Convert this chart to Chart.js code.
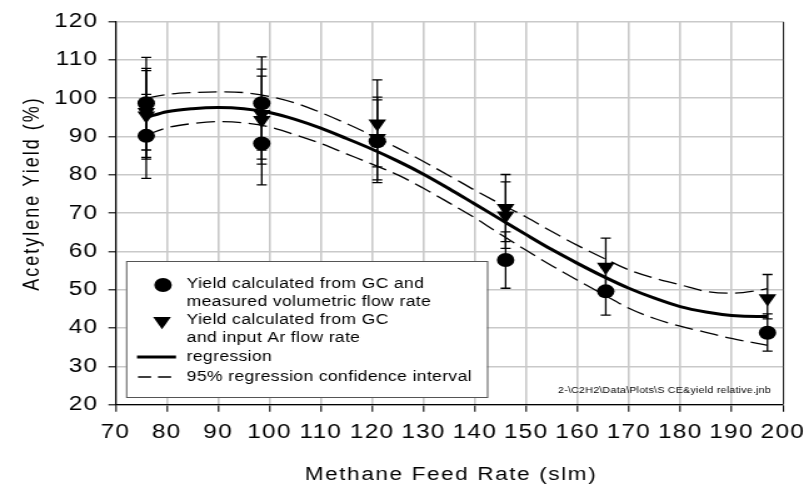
<!DOCTYPE html>
<html>
<head>
<meta charset="utf-8">
<title>Acetylene Yield vs Methane Feed Rate</title>
<script src="https://cdn.jsdelivr.net/npm/chart.js@4.4.1/dist/chart.umd.min.js"></script>
<style>
  html, body { margin: 0; padding: 0; background: #fff; }
  #chart { display: block; }
</style>
</head>
<body>
<canvas id="chart" width="643" height="485" style="width: 804px; height: 485px;"></canvas>
<script>
// The canvas is 643 px wide but shown at 804 px, so the whole plot is widened ~1.25x.
const STRETCH = 804 / 643;
const FONT = "'Liberation Sans', Arial, Helvetica, sans-serif";

const xTicks = [70, 80, 90, 100, 110, 120, 130, 140, 150, 160, 170, 180, 190, 200];
const yTicks = [20, 30, 40, 50, 60, 70, 80, 90, 100, 110, 120];

// yield from GC and measured volumetric flow rate (circles)
const measuredFeed = [76, 76, 98.5, 98.5, 121, 146, 165.5, 197];
const measuredYield = [98.7, 90.2, 98.7, 88.2, 88.8, 57.8, 49.6, 38.8];
const measuredLow = [86.5, 79.1, 86.5, 77.4, 78.0, 50.4, 43.4, 34.0];
const measuredHigh = [110.7, 101.0, 110.8, 99.0, 99.6, 65.1, 55.8, 43.7];

// yield from GC and input Ar flow rate (triangles)
const argonFeed = [76, 76, 98.5, 98.5, 121, 121, 146, 146, 165.5, 197];
const argonYield = [96.4, 95.5, 95.9, 94.3, 93.4, 89.6, 71.3, 69.4, 56.0, 47.8];
const argonLow = [84.6, 84.1, 84.1, 82.8, 82.1, 78.7, 62.6, 60.8, 48.8, 42.4];
const argonHigh = [107.8, 107.2, 107.6, 105.8, 104.8, 100.3, 80.1, 78.2, 63.5, 54.0];

// regression curve and its 95% confidence band
const fitFeed = [76, 80, 85, 90, 95, 100, 105, 110, 115, 120, 125, 130, 135, 140, 145, 150, 155, 160, 165, 170, 175, 180, 185, 190, 195, 197];
const fitYield = [95.0, 96.5, 97.3, 97.6, 97.3, 96.3, 94.5, 92.2, 89.5, 86.7, 83.6, 80.2, 76.4, 72.4, 68.4, 64.4, 60.5, 56.9, 53.5, 50.4, 47.8, 45.6, 44.2, 43.3, 43.0, 43.0];
const fitUpper = [100.0, 101.0, 101.5, 101.7, 101.5, 100.5, 98.8, 96.3, 93.4, 90.3, 87.0, 83.5, 79.8, 76.0, 72.4, 69.0, 65.2, 61.6, 58.3, 55.2, 53.0, 51.3, 49.6, 49.1, 49.8, 50.3];
const fitLower = [90.4, 92.3, 93.4, 93.9, 93.6, 92.5, 90.5, 88.2, 85.5, 82.8, 80.0, 76.5, 72.7, 68.8, 64.5, 60.3, 56.3, 52.5, 48.8, 45.2, 42.5, 40.5, 38.9, 37.3, 36.0, 35.5];

const legendLines = [
  "Yield calculated from GC and",
  "measured volumetric flow rate",
  "Yield calculated from GC",
  "and input Ar flow rate",
  "regression",
  "95% regression confidence interval",
];
const fileNote = "2-\\C2H2\\Data\\Plots\\S CE&yield relative.jnb";
const xTitle = "Methane Feed Rate (slm)";
const yTitle = "Acetylene Yield (%)";

const sx = (v) => v / STRETCH;
const pairs = (xs, ys) => xs.map((x, i) => ({ x, y: ys[i] }));

function drawErrorBars(ctx, xScale, yScale, xs, lows, highs) {
  ctx.save();
  ctx.strokeStyle = "#000";
  ctx.lineWidth = 1.3;
  xs.forEach((v, i) => {
    const px = xScale.getPixelForValue(v);
    const top = yScale.getPixelForValue(highs[i]);
    const bottom = yScale.getPixelForValue(lows[i]);
    ctx.beginPath();
    ctx.moveTo(px, top);
    ctx.lineTo(px, bottom);
    ctx.moveTo(px - 4, top);
    ctx.lineTo(px + 4, top);
    ctx.moveTo(px - 4, bottom);
    ctx.lineTo(px + 4, bottom);
    ctx.stroke();
  });
  ctx.restore();
}

function downTriangle(ctx, x, y, r) {
  const a = (2 * Math.PI) / 3;
  ctx.beginPath();
  for (let k = 0; k < 3; k++) {
    const rad = Math.PI + k * a;
    const px = x + Math.sin(rad) * r;
    const py = y - Math.cos(rad) * r;
    if (k === 0) ctx.moveTo(px, py);
    else ctx.lineTo(px, py);
  }
  ctx.closePath();
  ctx.fill();
}

function drawLegend(ctx) {
  const left = sx(126), right = sx(487), top = 261, bottom = 397;
  ctx.save();
  ctx.fillStyle = "#fff";
  ctx.fillRect(left, top, right - left, bottom - top);
  ctx.strokeStyle = "#555";
  ctx.lineWidth = 1;
  ctx.strokeRect(left + 0.5, top + 0.5, right - left, bottom - top);

  ctx.fillStyle = "#000";
  ctx.beginPath();
  ctx.arc(sx(163), 285, 7, 0, Math.PI * 2);
  ctx.fill();
  downTriangle(ctx, sx(162), 321, 8.2);

  ctx.strokeStyle = "#000";
  ctx.lineWidth = 3;
  ctx.beginPath();
  ctx.moveTo(sx(137), 357);
  ctx.lineTo(sx(176), 357);
  ctx.stroke();
  ctx.lineWidth = 1.3;
  ctx.setLineDash([10.5, 5.5]);
  ctx.beginPath();
  ctx.moveTo(sx(138), 377);
  ctx.lineTo(sx(176), 377);
  ctx.stroke();
  ctx.setLineDash([]);

  ctx.font = `14px ${FONT}`;
  ctx.letterSpacing = "0.3px";
  ctx.textAlign = "left";
  ctx.textBaseline = "middle";
  const rows = [284, 302, 320, 338, 357, 377];
  legendLines.forEach((t, i) => ctx.fillText(t, sx(186.7), rows[i]));

  ctx.font = `8.5px ${FONT}`;
  ctx.letterSpacing = "0.2px";
  ctx.fillText(fileNote, sx(558), 391);
  ctx.restore();
}

function drawTitles(ctx) {
  ctx.save();
  ctx.fillStyle = "#000";
  ctx.textAlign = "center";
  ctx.textBaseline = "middle";
  ctx.font = `18px ${FONT}`;
  ctx.letterSpacing = "1.3px";
  ctx.fillText(xTitle, sx(451), 475);
  ctx.letterSpacing = "2px";
  ctx.translate(sx(32), 193.5);
  ctx.rotate(-Math.PI / 2);
  ctx.fillText(yTitle, 0, 0);
  ctx.restore();
}

const decorations = {
  id: "decorations",
  beforeDraw(chart) {
    // spaced tick labels
    chart.ctx.letterSpacing = "1px";
  },
  beforeDatasetsDraw(chart) {
    const { ctx, scales } = chart;
    ctx.letterSpacing = "0px";
    drawErrorBars(ctx, scales.x, scales.y, measuredFeed, measuredLow, measuredHigh);
    drawErrorBars(ctx, scales.x, scales.y, argonFeed, argonLow, argonHigh);
  },
  afterDraw(chart) {
    drawLegend(chart.ctx);
    drawTitles(chart.ctx);
  },
};

const gridColor = "#c9c9c9";

new Chart(document.getElementById("chart"), {
  type: "scatter",
  data: {
    datasets: [
      {
        label: "95% regression confidence interval",
        data: pairs(fitFeed, fitUpper),
        showLine: true,
        borderColor: "#000",
        borderWidth: 1.3,
        borderDash: [15, 6],
        pointRadius: 0,
        cubicInterpolationMode: "monotone",
      },
      {
        label: "95% regression confidence interval (lower)",
        data: pairs(fitFeed, fitLower),
        showLine: true,
        borderColor: "#000",
        borderWidth: 1.3,
        borderDash: [15, 6],
        pointRadius: 0,
        cubicInterpolationMode: "monotone",
      },
      {
        label: "regression",
        data: pairs(fitFeed, fitYield),
        showLine: true,
        borderColor: "#000",
        borderWidth: 3,
        pointRadius: 0,
        cubicInterpolationMode: "monotone",
      },
      {
        label: "Yield calculated from GC and measured volumetric flow rate",
        data: pairs(measuredFeed, measuredYield),
        pointStyle: "circle",
        pointRadius: 7,
        pointBorderWidth: 0,
        backgroundColor: "#000",
        borderColor: "#000",
      },
      {
        label: "Yield calculated from GC and input Ar flow rate",
        data: pairs(argonFeed, argonYield),
        pointStyle: "triangle",
        rotation: 180,
        pointRadius: 8.2,
        pointBorderWidth: 0,
        backgroundColor: "#000",
        borderColor: "#000",
      },
    ],
  },
  options: {
    responsive: false,
    animation: false,
    devicePixelRatio: 1,
    events: [],
    layout: { padding: { left: 0, right: 643 - 626.1, top: 21.7, bottom: 0 } },
    plugins: { legend: { display: false }, tooltip: { enabled: false } },
    scales: {
      x: {
        type: "linear",
        min: xTicks[0],
        max: xTicks[xTicks.length - 1],
        afterBuildTicks: (scale) => { scale.ticks = xTicks.map((value) => ({ value })); },
        ticks: {
          autoSkip: false,
          maxRotation: 0,
          color: "#000",
          padding: 9,
          font: { family: FONT, size: 19.5 },
        },
        grid: {
          color: (c) => (c.tick && c.tick.value === 200 ? "#222" : gridColor),
          lineWidth: (c) => (c.tick && c.tick.value === 200 ? 1.1 : 1.6),
          tickColor: "#000",
          tickLength: 7,
          tickWidth: 1.1,
        },
        border: { color: "#000", width: 1.2 },
        afterFit(scale) {
          scale.height = 485 - 404.7;
          scale.paddingLeft = 0;
          scale.paddingRight = 0;
        },
      },
      y: {
        type: "linear",
        min: yTicks[0],
        max: yTicks[yTicks.length - 1],
        afterBuildTicks: (scale) => { scale.ticks = yTicks.map((value) => ({ value })); },
        ticks: {
          color: "#000",
          padding: 8,
          font: { family: FONT, size: 19.5 },
        },
        grid: {
          color: gridColor,
          lineWidth: 1.6,
          tickColor: "#000",
          tickLength: 5.6,
          tickWidth: 1.1,
        },
        border: { color: "#000", width: 1.2 },
        afterFit(scale) {
          scale.width = 92.3;
          scale.paddingTop = 0;
          scale.paddingBottom = 0;
        },
      },
    },
  },
  plugins: [decorations],
});
</script>
</body>
</html>
